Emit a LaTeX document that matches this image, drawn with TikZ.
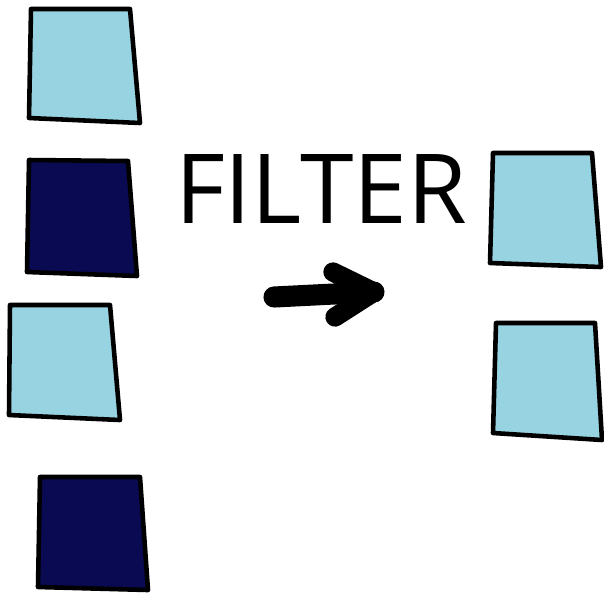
\documentclass[tikz,border=0pt]{standalone}
\usepackage{fontspec}
\setmainfont{Open Sans}
\usetikzlibrary{arrows.meta,positioning}
\definecolor{lightcell}{RGB}{151,211,224}
\definecolor{darkcell}{RGB}{10,10,82}

\begin{document}
\begin{tikzpicture}[x=0.02cm,y=-0.02cm,
  cell/.style={draw=black,line width=2.6pt,line join=round},
  light/.style={cell,fill=lightcell},
  dark/.style={cell,fill=darkcell}]
\useasboundingbox (0,0) rectangle (604,593);
% input column
\draw[light] (31,9) -- (130,9) -- (140,123) -- (29,118) -- cycle;
\draw[dark] (29,160) -- (128,161) -- (137,276) -- (27,272) -- cycle;
\draw[light] (10,305) -- (110,305) -- (120,420) -- (9,415) -- cycle;
\draw[dark] (40,477) -- (140,477) -- (148,590) -- (38,587) -- cycle;
% output column
\draw[light] (493,153) -- (592,153) -- (601,267) -- (490,263) -- cycle;
\draw[light] (496,323) -- (595,323) -- (602,440) -- (493,433) -- cycle;
% label and arrow
\node[anchor=base,inner sep=0pt,font=\fontsize{55}{60}\selectfont] (label) at (321,223) {FILTER};
\coordinate (tail) at (274,297);
\coordinate (tip) at (374,292);
\coordinate (headup) at (333,272);
\coordinate (headdown) at (335,317);
\draw[line width=12pt,line cap=round,line join=round] (tail) -- (tip);
\draw[line width=11pt,line cap=round,line join=round] (headup) -- (tip) -- (headdown);
\end{tikzpicture}
\end{document}
